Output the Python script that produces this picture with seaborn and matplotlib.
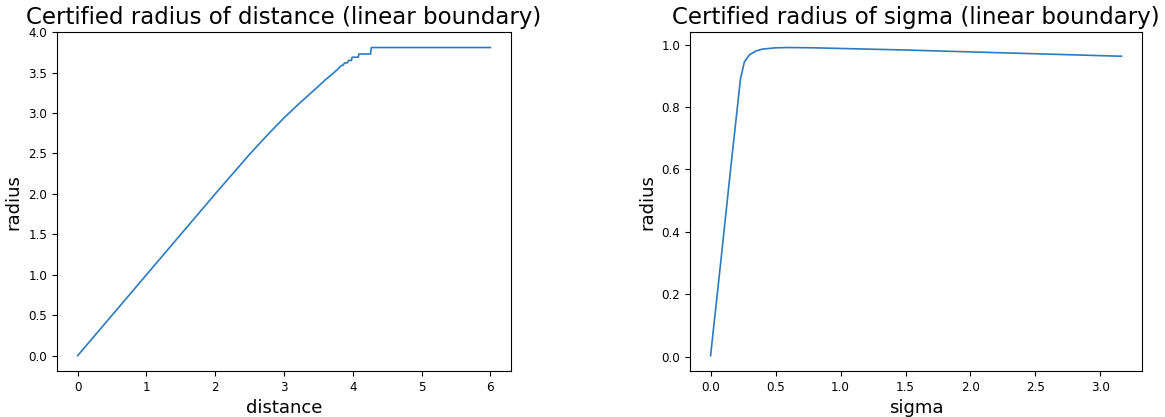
import numpy as np
import pandas as pd
import matplotlib
matplotlib.use("Agg")
import matplotlib.pyplot as plt
import seaborn as sns

# values
distance = [0.0, 0.5, 1.0, 1.5, 2.0, 2.5, 2.75, 3.0, 3.25, 3.5, 3.6, 3.7,
            3.78, 3.80, 3.84, 3.86, 3.88, 3.92, 3.94, 3.98, 3.99, 4.08, 4.09,
            4.26, 4.27, 5.0, 6.0]
radius_dist = [0.0, 0.5, 1.0, 1.5, 2.0, 2.49, 2.72, 2.94, 3.14, 3.33, 3.41, 3.48,
               3.54, 3.56, 3.59, 3.59, 3.62, 3.62, 3.65, 3.65, 3.69, 3.69, 3.73,
               3.73, 3.81, 3.81, 3.81]

sigma = [0.0, 0.08, 0.15, 0.23, 0.26, 0.30, 0.35, 0.40, 0.50, 0.60, 0.80,
         1.0, 1.5, 2.0, 2.5, 3.162]
radius_sigma = [0.003, 0.31, 0.585, 0.89, 0.945, 0.968, 0.98, 0.986, 0.99,
                0.991, 0.99, 0.988, 0.983, 0.977, 0.971, 0.963]

df_dist = pd.DataFrame({"distance": distance, "radius": radius_dist})
df_sigma = pd.DataFrame({"sigma": sigma, "radius": radius_sigma})

plt.rcParams["font.family"] = ["DejaVu Sans"]
plt.rcParams["xtick.labelsize"] = 8.6
plt.rcParams["ytick.labelsize"] = 8.6

fig = plt.figure(figsize=(11.65, 4.17), dpi=100)
ax1 = fig.add_axes([0.0489, 0.110, 0.3897, 0.813])
ax2 = fig.add_axes([0.5923, 0.110, 0.388, 0.813])

# left: radius vs distance
sns.lineplot(data=df_dist, x="distance", y="radius", ax=ax1, color="#2a7bbf", linewidth=1.2)
ax1.set_title("Certified radius of distance (linear boundary)", fontsize=16.5)
ax1.set_xlabel("distance", fontsize=13)
ax1.set_ylabel("radius", fontsize=13)

# right: radius vs sigma
sns.lineplot(data=df_sigma, x="sigma", y="radius", ax=ax2, color="#2a7bbf", linewidth=1.2)
ax2.set_title("Certified radius of sigma (linear boundary)", fontsize=16.5)
ax2.set_xlabel("sigma", fontsize=13)
ax2.set_ylabel("radius", fontsize=13)

fig.savefig("out.png", dpi=100)
